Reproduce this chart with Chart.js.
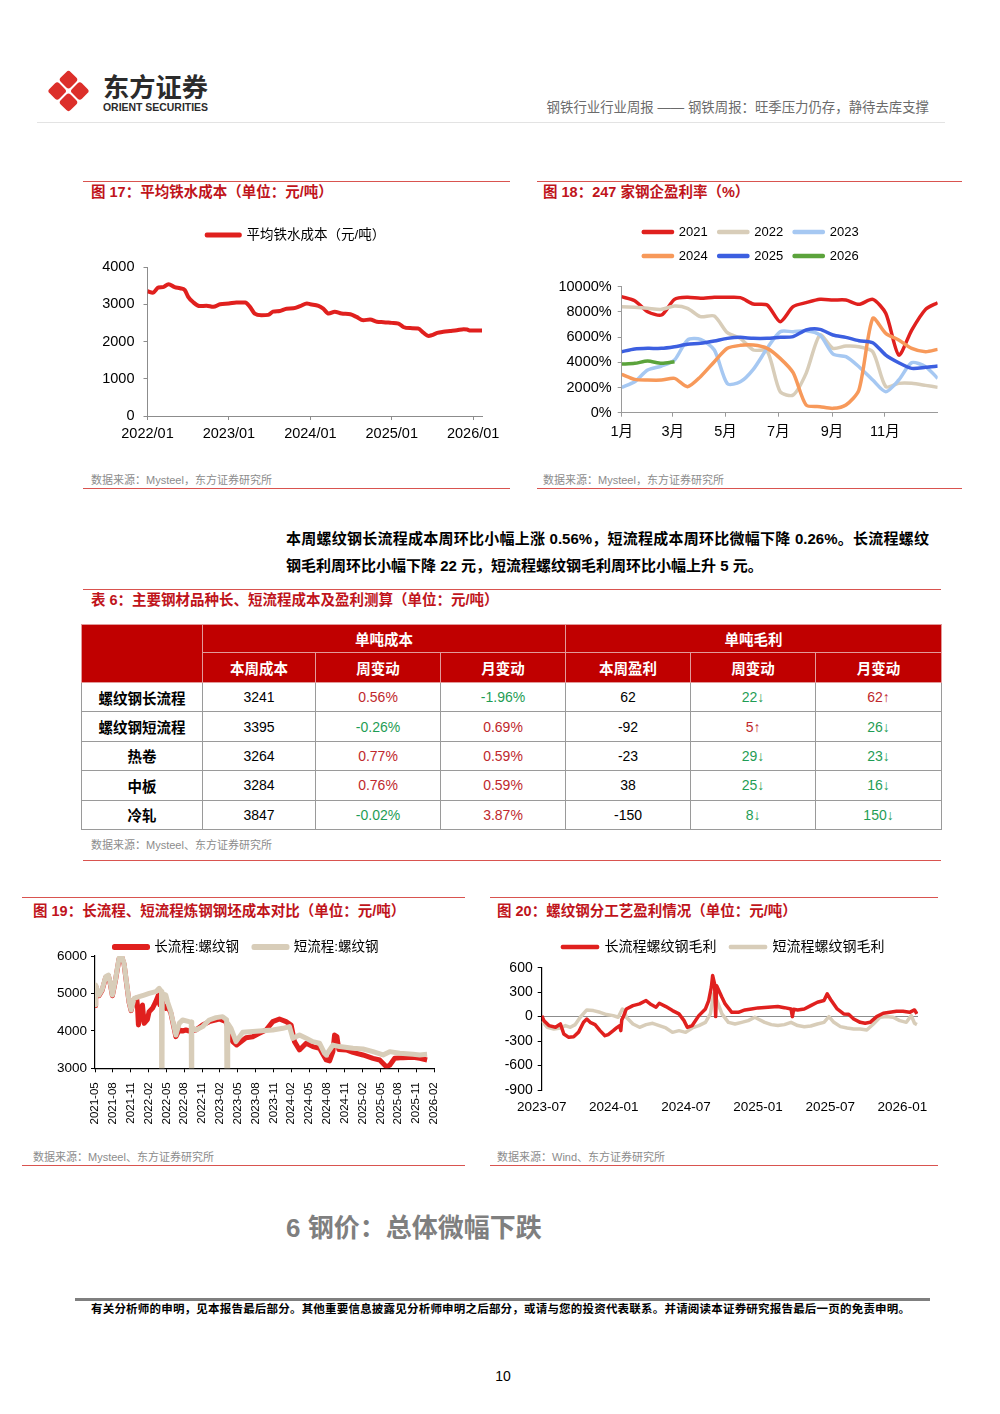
<!DOCTYPE html>
<html lang="zh-CN">
<head>
<meta charset="utf-8">
<title>钢铁周报 第10页</title>
<script src="https://cdn.jsdelivr.net/npm/chart.js@4.4.1/dist/chart.umd.min.js"></script>
<style>
  body { margin: 0; background: #fff; }
  #page { position: relative; width: 1000px; height: 1414px; overflow: hidden; background: #fff;
          font-family: 'Liberation Sans', 'Noto Sans CJK SC', sans-serif; color: #000; }
  #page > div { position: absolute; white-space: nowrap; line-height: 1; }
  .rule { height: 0; border-top: 1px solid #d9534f; }
  .ttl { font-size: 14.5px; font-weight: bold; color: #c0141b; }
  .src { font-size: 11px; color: #8c8c8c; }
  canvas { position: absolute; }
  #tb { position: absolute; left: 81px; top: 624px; width: 860px; border-collapse: collapse;
        table-layout: fixed; font-size: 14px; border: 1.5px solid #555; }
  #tb th { background: #c00000; color: #fff; font-weight: bold; font-size: 14.5px; padding: 0;
           border: 1px solid #e29a9a; }
  #tb tr.h1 th { height: 27px; }
  #tb tr.h2 th { height: 29px; }
  #tb td { border: 1px solid #9a9a9a; text-align: center; padding: 0; height: 28.4px; }
  #tb td.nm { font-weight: bold; font-size: 14.5px; }
  #tb td.up { color: #c0282d; }
  #tb td.dn { color: #1f9d55; }
</style>
</head>
<body>
<div id="page">
  <svg style="position:absolute;left:0;top:0" width="240" height="125">
    <g transform="translate(68.5,91) rotate(45)" fill="#dc2f2a">
      <rect x="-15" y="-15" width="14" height="14" rx="3"/>
      <rect x="1" y="-15" width="14" height="14" rx="3"/>
      <rect x="-15" y="1" width="14" height="14" rx="3"/>
      <rect x="1" y="1" width="14" height="14" rx="3"/>
    </g>
    <text x="103" y="97" font-family="'Noto Sans CJK SC'" font-weight="bold" font-size="26" fill="#2b2b2b"
          textLength="105" lengthAdjust="spacingAndGlyphs">东方证券</text>
    <text x="103" y="110.5" font-family="'Liberation Sans'" font-weight="bold" font-size="10" fill="#2b2b2b"
          textLength="105" lengthAdjust="spacingAndGlyphs">ORIENT SECURITIES</text>
  </svg>
  <div style="right:71px;top:101px;font-size:13.4px;color:#6b6b6b">钢铁行业行业周报 —— 钢铁周报：旺季压力仍存，静待去库支撑</div>
  <div class="rule" style="left:37px;top:122px;width:908px;border-top-color:#e3e3e3"></div>

  <div class="rule" style="left:83px;top:181px;width:427px"></div>
  <div class="ttl" style="left:91px;top:185px">图 17：平均铁水成本（单位：元/吨）</div>
  <canvas id="c17"></canvas>
  <div class="src" style="left:91px;top:474.5px">数据来源：Mysteel，东方证券研究所</div>
  <div class="rule" style="left:83px;top:488px;width:427px;border-top-width:1.5px"></div>

  <div class="rule" style="left:537px;top:181px;width:425px"></div>
  <div class="ttl" style="left:543px;top:185px">图 18：247 家钢企盈利率（%）</div>
  <canvas id="c18"></canvas>
  <div class="src" style="left:543px;top:474.5px">数据来源：Mysteel，东方证券研究所</div>
  <div class="rule" style="left:537px;top:488px;width:425px;border-top-width:1.5px"></div>

  <div style="left:286px;top:530.5px;width:643px;font-size:15px;font-weight:bold;text-align:justify;text-align-last:justify;white-space:normal">本周螺纹钢长流程成本周环比小幅上涨 0.56%，短流程成本周环比微幅下降 0.26%。长流程螺纹</div>
  <div style="left:286px;top:557.5px;font-size:15px;font-weight:bold">钢毛利周环比小幅下降 22 元，短流程螺纹钢毛利周环比小幅上升 5 元。</div>

  <div class="rule" style="left:83px;top:589px;width:858px"></div>
  <div class="ttl" style="left:91px;top:593px">表 6：主要钢材品种长、短流程成本及盈利测算（单位：元/吨）</div>
  <table id="tb">
    <colgroup><col style="width:121px"><col style="width:113px"><col style="width:125px"><col style="width:125px"><col style="width:125px"><col style="width:125px"><col style="width:126px"></colgroup>
    <tr class="h1"><th rowspan="2"></th><th colspan="3">单吨成本</th><th colspan="3">单吨毛利</th></tr>
    <tr class="h2"><th>本周成本</th><th>周变动</th><th>月变动</th><th>本周盈利</th><th>周变动</th><th>月变动</th></tr>
  </table>
  <div class="src" style="left:91px;top:839.5px">数据来源：Mysteel、东方证券研究所</div>
  <div class="rule" style="left:83px;top:860px;width:858px"></div>

  <div class="rule" style="left:22px;top:897px;width:443px"></div>
  <div class="ttl" style="left:33px;top:904px">图 19：长流程、短流程炼钢钢坯成本对比（单位：元/吨）</div>
  <canvas id="c19"></canvas>
  <div class="src" style="left:33px;top:1151.5px">数据来源：Mysteel、东方证券研究所</div>
  <div class="rule" style="left:22px;top:1165px;width:443px;border-top-width:1.5px"></div>

  <div class="rule" style="left:490px;top:897px;width:448px"></div>
  <div class="ttl" style="left:497px;top:904px">图 20：螺纹钢分工艺盈利情况（单位：元/吨）</div>
  <canvas id="c20"></canvas>
  <div class="src" style="left:497px;top:1151.5px">数据来源：Wind、东方证券研究所</div>
  <div class="rule" style="left:490px;top:1165px;width:448px;border-top-width:1.5px"></div>

  <div style="left:286px;top:1215px;font-size:26px;font-weight:bold;color:#7f7f7f">6 钢价：总体微幅下跌</div>

  <div class="rule" style="left:75px;top:1298px;width:855px;border-top:3px solid #7f7f7f"></div>
  <div style="left:91px;top:1304px;width:819px;font-size:11.5px;font-weight:bold;text-align:justify;text-align-last:justify;white-space:normal">有关分析师的申明，见本报告最后部分。其他重要信息披露见分析师申明之后部分，或请与您的投资代表联系。并请阅读本证券研究报告最后一页的免责申明。</div>
  <div style="left:483px;top:1369px;width:40px;text-align:center;font-size:14px">10</div>
</div>

<script>
// ---- 图17 平均铁水成本 (x = months since 2022/01)
const ironMonth = [0, 0.8, 1.6, 2.3, 3.1, 4.0, 4.8, 5.5,
  6.0, 6.7, 7.7, 8.7, 9.7, 10.7, 12.0, 13.1,
  14.4, 15.1, 15.8, 16.8, 17.8, 18.5, 19.5, 20.5,
  21.5, 22.5, 23.5, 24.0, 25.2, 25.9, 26.7, 27.6,
  28.6, 29.9, 30.8, 31.8, 32.8, 33.8, 34.8, 36.0,
  37.0, 37.7, 38.7, 39.9, 40.7, 41.4, 41.9, 42.7,
  43.6, 44.6, 45.6, 46.6, 47.1, 47.6, 48.6, 49.3];
const ironCost = [3350, 3310, 3450, 3460, 3540, 3460, 3430, 3380,
  3200, 3060, 2950, 2960, 2930, 3000, 3020, 3050,
  3045, 2930, 2750, 2705, 2715, 2800, 2820, 2880,
  2890, 2950, 3020, 3000, 2955, 2880, 2750, 2800,
  2750, 2730, 2660, 2570, 2590, 2530, 2520, 2500,
  2480, 2390, 2360, 2350, 2230, 2150, 2170, 2230,
  2260, 2280, 2300, 2330, 2320, 2295, 2295, 2295];
const ironTicks = ['2022/01', '2023/01', '2024/01', '2025/01', '2026/01'];

// ---- 图18 247家钢企盈利率 (x = day of year)
const dayOfYear = [0, 15, 30, 46, 61, 76, 91, 107, 122, 137, 152, 168, 183,
  198, 213, 229, 244, 259, 274, 290, 305, 320, 335, 351, 365];
const p2021 = [9208, 8890, 8017, 7753, 8996, 9155, 9076, 9155, 9155, 9129, 8626, 8547, 7224,
  8414, 8732, 8996, 8943, 8943, 8600, 8996, 7885, 4577, 6562, 8203, 8732];
const p2022 = [8414, 8361, 8282, 8203, 8467, 8282, 7620, 7673, 6350, 5900, 4975, 4900, 1667,
  1402, 3122, 6165, 5107, 5292, 5239, 4842, 2064, 2328, 2328, 2170, 2011];
const p2023 = [2011, 2461, 3387, 3704, 4181, 5768, 5821, 4975, 2300, 2450, 3440, 5107, 6430,
  6430, 6509, 6165, 4657, 4445, 3651, 2593, 1667, 2593, 3969, 3651, 2725];
const p2024 = [3043, 2646, 2593, 2593, 2725, 2064, 2858, 4048, 5107, 5345, 5371, 5107, 4313,
  3175, 609, 476, 344, 609, 1799, 7488, 6297, 5768, 5107, 4842, 5027];
const p2025 = [4842, 5054, 5107, 5107, 5239, 5424, 5504, 5689, 5900, 5980, 5900, 5900, 5980,
  6033, 6562, 6615, 6165, 5980, 5715, 5557, 4577, 3969, 3519, 3598, 3704];
const p2026 = [3863, 3916, 4101, 3916, 4048];
const monthNames = ['1月', '3月', '5月', '7月', '9月', '11月'];
const monthStartDay = [0, 59, 120, 181, 243, 304];

// ---- 图19 长/短流程钢坯成本 (x = months since 2021-05)
const longT = [0, 0.11, 0.67, 1.2, 1.8, 2.25, 2.6, 2.92,
  3.48, 4.04, 4.49, 4.89, 5.28, 5.73, 6.07, 6.57,
  7.0, 7.13, 7.3, 7.7, 7.98, 8.26, 8.8, 9.1,
  9.66, 10.22, 10.67, 10.9, 11.12, 11.46, 11.91, 12.19,
  12.75, 13.6, 14.16, 14.72, 15.28, 15.84, 16.97, 18.09,
  19.21, 20.9, 22.02, 23.15, 23.82, 25.39, 26.52, 27.64,
  28.76, 29.89, 31.01, 32.13, 32.98, 33.54, 34.38, 35.51,
  36.63, 37.75, 38.88, 39.44, 40.0, 40.28, 40.67, 41.0,
  42.25, 43.37, 45.06, 46.74, 47.87, 48.99, 49.55, 50.39,
  51.8, 53.48, 54.61, 55.84];
const longCost = [4680, 5200, 4940, 5080, 5430, 5470, 5230, 4940,
  5380, 5920, 5980, 5780, 5300, 4760, 4540, 4850,
  4880, 4690, 4157, 4600, 4690, 4200, 4300, 4513,
  4602, 4780, 4958, 4700, 4950, 4650, 4602, 4680,
  4480, 3845, 4023, 3997, 4023, 3997, 4023, 4157,
  4246, 4317, 4246, 3712, 3623, 3818, 3845, 3935,
  4023, 4246, 4317, 4246, 4157, 3712, 3490, 3667,
  3580, 3534, 3223, 3196, 3445, 3890, 3850, 3500,
  3490, 3427, 3356, 3267, 3223, 3044, 3080, 3267,
  3285, 3294, 3267, 3223];
const shortT = [0, 0.11, 0.67, 1.2, 1.8, 2.25, 2.6, 2.92,
  3.48, 4.04, 4.49, 4.89, 5.28, 5.73, 6.07, 6.57,
  7.42, 8.26, 9.1, 10.22, 10.79, 11.18, 11.24, 11.3,
  11.91, 12.19, 12.75, 13.6, 14.16, 14.72, 15.84, 16.18,
  16.24, 16.3, 16.97, 18.09, 19.21, 20.34, 21.46, 22.13,
  22.25, 22.32, 22.87, 23.71, 24.83, 26.52, 28.2, 29.89,
  31.57, 32.7, 33.26, 34.38, 35.51, 36.63, 37.75, 38.6,
  38.88, 40.0, 41.12, 43.37, 45.06, 46.74, 48.43, 49.55,
  51.24, 53.48, 54.61, 55.84];
const shortCost = [4700, 5225, 4958, 5100, 5448, 5492, 5250, 4958,
  5400, 5940, 6000, 5800, 5315, 4780, 4558, 4870,
  4914, 4958, 5000, 5047, 5136, 5050, 0, 5000,
  4958, 4780, 4513, 3890, 4200, 4290, 4246, 4240,
  0, 4100, 4023, 4113, 4290, 4353, 4380, 4300,
  0, 4200, 4068, 3712, 3960, 3980, 4000, 4023,
  4068, 4113, 3800, 3890, 3800, 3712, 3670, 3400,
  3356, 3620, 3580, 3534, 3516, 3445, 3356, 3445,
  3400, 3374, 3356, 3374];
const costTicks = ['2021-05', '2021-08', '2021-11', '2022-02', '2022-05', '2022-08', '2022-11',
  '2023-02', '2023-05', '2023-08', '2023-11', '2024-02', '2024-05', '2024-08', '2024-11',
  '2025-02', '2025-05', '2025-08', '2025-11', '2026-02'];

// ---- 图20 螺纹钢分工艺毛利 (x = months since 2023-07)
const longPT = [0, 0.19, 0.6, 1.15, 1.56, 1.84, 2.25, 2.66,
  3.07, 3.48, 3.75, 4.03, 4.44, 4.85, 5.26, 5.53,
  5.95, 6.22, 6.49, 6.58, 6.66, 6.77, 7.04, 7.59,
  8.14, 8.68, 9.1, 9.51, 9.78, 10.33, 10.88, 11.42,
  11.84, 12.11, 12.52, 13.07, 13.62, 13.89, 14.11, 14.22,
  14.38, 14.47, 14.55, 14.99, 15.26, 15.81, 16.36, 16.9,
  17.45, 18.0, 18.82, 19.64, 20.19, 20.74, 20.85, 20.96,
  21.29, 21.84, 22.38, 22.93, 23.48, 23.75, 24.03, 24.58,
  25.12, 25.53, 25.95, 26.49, 26.9, 27.32, 27.86, 28.41,
  28.96, 29.51, 30.05, 30.6, 31.01, 31.21];
const longProfit = [10, -50, -110, -130, -90, -213, -254, -246,
  -190, -70, -30, -70, -98, -172, -234, -220,
  -172, -139, -110, -172, -40, -8, 94, 135,
  156, 197, 148, 115, 164, 123, 74, 33,
  -49, -131, -110, 12, 94, 197, 361, 504,
  402, 0, 380, 238, 156, 53, 53, 82,
  94, 107, 115, 123, 110, 94, 0, 90,
  82, 94, 135, 176, 197, 279, 210, 94,
  33, 30, -29, -70, -82, -70, 0, 41,
  53, 66, 66, 53, 82, 33];
const shortPT = [0, 0.47, 1.01, 1.56, 1.97, 2.38, 2.79, 3.21,
  3.75, 4.3, 4.85, 5.4, 5.95, 6.36, 6.71, 6.9,
  7.04, 7.59, 8.14, 8.68, 9.23, 9.78, 10.33, 10.88,
  11.42, 11.97, 12.52, 13.07, 13.62, 14.03, 14.3, 14.58,
  14.99, 15.53, 16.08, 16.63, 17.18, 17.73, 18.0, 18.55,
  19.1, 19.64, 20.19, 20.74, 21.29, 21.84, 22.38, 22.93,
  23.48, 23.89, 24.3, 24.85, 25.4, 25.95, 26.49, 27.04,
  27.59, 28.14, 28.68, 29.23, 29.78, 30.33, 30.74, 31.01,
  31.21];
const shortProfit = [-49, -131, -152, -139, -110, -131, -98, -8,
  82, 74, 53, 25, 12, -8, 94, 60,
  -8, -90, -131, -98, -82, -110, -139, -193,
  -172, -193, -139, -110, -70, 33, 279, 197,
  33, -70, -90, -70, -49, -8, -29, -70,
  -98, -110, -98, -70, -110, -123, -115, -90,
  -70, 0, -70, -123, -139, -152, -152, -164,
  -90, -8, 0, -8, -49, -70, 12, -82,
  -98];
const profitTicks = ['2023-07', '2024-01', '2024-07', '2025-01', '2025-07', '2026-01'];

// ---- 表6
const rowNames = ['螺纹钢长流程', '螺纹钢短流程', '热卷', '中板', '冷轧'];
const costNow = [3241, 3395, 3264, 3284, 3847];
const costWeek = ['0.56%', '-0.26%', '0.77%', '0.76%', '-0.02%'];
const costMonth = ['-1.96%', '0.69%', '0.59%', '0.59%', '3.87%'];
const profitNow = [62, -92, -23, 38, -150];
const profitWeek = ['22↓', '5↑', '29↓', '25↓', '8↓'];
const profitMonth = ['62↑', '26↓', '23↓', '16↓', '150↓'];

const RED = '#e0201e', BEIGE = '#d8cdb9';

const tone = s => (s.startsWith('-') || s.endsWith('↓')) ? 'dn' : 'up';
const tb = document.getElementById('tb');
rowNames.forEach((n, i) => {
  const cells = [costWeek[i], costMonth[i]].map(s => `<td class="${tone(s)}">${s}</td>`).join('');
  const cells2 = [profitWeek[i], profitMonth[i]].map(s => `<td class="${tone(s)}">${s}</td>`).join('');
  tb.insertAdjacentHTML('beforeend',
    `<tr><td class="nm">${n}</td><td>${costNow[i]}</td>${cells}<td>${profitNow[i]}</td>${cells2}</tr>`);
});

Chart.defaults.font.family = "'Liberation Sans', 'Noto Sans CJK SC', sans-serif";
Chart.defaults.color = '#000';

// keep the legend where the page has it (and force the 3+3 rows in fig 18)
const pinLegend = {
  id: 'pinLegend',
  beforeLayout(chart, args, opts) {
    const lg = chart.legend;
    if (lg && opts.maxWidth && !lg._capped) {
      const upd = lg.update.bind(lg);
      lg.update = (w, h, m) => upd(Math.min(w, opts.maxWidth), h, m);
      lg._capped = true;
    }
  },
  afterLayout(chart, args, opts) {
    const lg = chart.legend;
    if (!lg) return;
    const w = lg.right - lg.left, h = lg.bottom - lg.top;
    lg.left = opts.center - w / 2; lg.right = lg.left + w;
    lg.top = opts.top; lg.bottom = opts.top + h;
  }
};

const noPadX = s => { s.paddingLeft = 0; s.paddingRight = 0; };
const noPadY = s => { s.paddingTop = 0; s.paddingBottom = 0; };
const plain = v => String(v);
const pts = (xs, ys) => xs.map((x, i) => ({ x, y: ys[i] }));
const line = (label, xs, ys, color, width, extra) => Object.assign({
  label, data: pts(xs, ys), borderColor: color, backgroundColor: color, borderWidth: width,
  pointRadius: 0, borderJoinStyle: 'round', fill: false
}, extra || {});
const legendOpts = (fs, box, pad) => ({
  display: true, position: 'top',
  labels: { boxWidth: box, boxHeight: 1, padding: pad, font: { size: fs }, color: '#000',
            sort: (a, b) => a.datasetIndex - b.datasetIndex }
});

// box = canvas [left, top, w, h]; area = plot [left, top, right, bottom], page px
function makeChart(id, box, area, cfg) {
  const cv = document.getElementById(id);
  cv.style.left = box[0] + 'px'; cv.style.top = box[1] + 'px';
  cv.style.width = box[2] + 'px'; cv.style.height = box[3] + 'px';
  cv.width = box[2]; cv.height = box[3];
  cfg.options.layout = { padding: { left: 0, top: 0, right: 0, bottom: 0 } };
  cfg.options.responsive = false;
  cfg.options.animation = false;
  cfg.options.plugins.tooltip = { enabled: false };
  cfg.plugins = [pinLegend];
  const ch = new Chart(cv, cfg);
  for (let k = 0; k < 3; k++) {
    const a = ch.chartArea, pad = ch.config.options.layout.padding;
    pad.left += area[0] - box[0] - a.left;
    pad.top += area[1] - box[1] - a.top;
    pad.right += a.right - (area[2] - box[0]);
    pad.bottom += a.bottom - (area[3] - box[1]);
    ch.update('none');
  }
  return ch;
}

// 图17
makeChart('c17', [83, 205, 427, 262], [147.5, 267, 482, 416], {
  type: 'line',
  data: { datasets: [line('平均铁水成本（元/吨）', ironMonth, ironCost, RED, 4, { cubicInterpolationMode: 'monotone' })] },
  options: {
    plugins: { legend: legendOpts(13.5, 33, 10), pinLegend: { center: 296 - 83, top: 235 - 10 - 6.75 - 205 } },
    scales: {
      x: { type: 'linear', min: 0, max: 49.3, afterFit: noPadX,
           afterBuildTicks: a => { a.ticks = ironTicks.map((_, i) => ({ value: i * 12 })); },
           grid: { drawOnChartArea: false, color: '#8c8c8c', tickLength: 4 }, border: { color: '#8c8c8c' },
           ticks: { callback: (v, i) => ironTicks[i], font: { size: 14.5 }, padding: 5, maxRotation: 0, autoSkip: false } },
      y: { min: 0, max: 4000, afterFit: noPadY,
           grid: { drawOnChartArea: false, color: '#8c8c8c', tickLength: 4 }, border: { color: '#8c8c8c' },
           ticks: { stepSize: 1000, font: { size: 14.5 }, padding: 9, callback: plain } }
    }
  }
});

// 图18 (later years drawn on top)
makeChart('c18', [537, 205, 425, 262], [621.7, 286.7, 937.7, 412.7], {
  type: 'line',
  data: { datasets: [
    line('2021', dayOfYear, p2021, RED, 3.5, { order: 6, tension: 0.25 }),
    line('2022', dayOfYear, p2022, BEIGE, 3.5, { order: 5, tension: 0.25 }),
    line('2023', dayOfYear, p2023, '#a6c8f2', 3.5, { order: 4, tension: 0.25 }),
    line('2024', dayOfYear, p2024, '#f7995a', 3.5, { order: 3, tension: 0.25 }),
    line('2025', dayOfYear, p2025, '#3c5fe0', 3.5, { order: 2, tension: 0.25 }),
    line('2026', dayOfYear, p2026, '#5ba33b', 3.5, { order: 1, tension: 0.25 })
  ] },
  options: {
    plugins: { legend: legendOpts(13, 29, 11), pinLegend: { center: 751 - 537, top: 232 - 11 - 6.5 - 205, maxWidth: 280 } },
    scales: {
      x: { type: 'linear', min: 0, max: 365, afterFit: noPadX,
           afterBuildTicks: a => { a.ticks = monthStartDay.map(d => ({ value: d })); },
           grid: { drawOnChartArea: false, color: '#9a9a9a', tickLength: 4 }, border: { color: '#9a9a9a' },
           ticks: { callback: (v, i) => monthNames[i], font: { size: 14.5 }, padding: 7, maxRotation: 0, autoSkip: false } },
      y: { min: 0, max: 10000, afterFit: noPadY,
           grid: { drawOnChartArea: false, color: '#9a9a9a', tickLength: 4 }, border: { color: '#9a9a9a' },
           ticks: { stepSize: 2000, font: { size: 14.5 }, padding: 6, callback: v => v + '%' } }
    }
  }
});

// 图19 (短流程 drawn over 长流程)
makeChart('c19', [22, 915, 443, 225], [95, 956, 434, 1068.3], {
  type: 'line',
  data: { datasets: [
    line('长流程:螺纹钢', longT, longCost, RED, 5, { order: 2 }),
    line('短流程:螺纹钢', shortT, shortCost, BEIGE, 5, { order: 1 })
  ] },
  options: {
    plugins: { legend: legendOpts(13.5, 33, 15), pinLegend: { center: 246.5 - 22, top: 947 - 15 - 6.75 - 915 } },
    scales: {
      x: { type: 'linear', min: 0, max: 57, afterFit: noPadX,
           afterBuildTicks: a => { a.ticks = costTicks.map((_, i) => ({ value: i * 3 })); },
           grid: { drawOnChartArea: false, color: '#000', tickLength: 4 }, border: { color: '#000', width: 1.2 },
           ticks: { callback: (v, i) => costTicks[i], font: { size: 11.5 }, padding: 10,
                    minRotation: 90, maxRotation: 90, autoSkip: false } },
      y: { min: 3000, max: 6000, afterFit: noPadY,
           grid: { drawOnChartArea: false, color: '#000', tickLength: 4 }, border: { color: '#000', width: 1.2 },
           ticks: { stepSize: 500, font: { size: 13.5 }, padding: 4, callback: plain } }
    }
  }
});

// 图20
makeChart('c20', [490, 915, 448, 205], [541.7, 967.7, 918, 1090], {
  type: 'line',
  data: { datasets: [
    line('长流程螺纹钢毛利', longPT, longProfit, RED, 3.5),
    line('短流程螺纹钢毛利', shortPT, shortProfit, BEIGE, 3.5)
  ] },
  options: {
    plugins: { legend: legendOpts(14, 35, 14), pinLegend: { center: 723.5 - 490, top: 947 - 14 - 7 - 915 } },
    scales: {
      x: { type: 'linear', min: 0, max: 31.3, afterFit: noPadX,
           afterBuildTicks: a => { a.ticks = profitTicks.map((_, i) => ({ value: i * 6 })); },
           grid: { display: false, drawTicks: false }, border: { display: false },
           ticks: { callback: (v, i) => profitTicks[i], font: { size: 13.5 }, padding: 9, maxRotation: 0, autoSkip: false } },
      y: { min: -900, max: 600, afterFit: noPadY,
           grid: { color: c => c.tick && c.tick.value === 0 ? '#8c8c8c' : 'rgba(0,0,0,0)', tickColor: '#000', tickLength: 4 },
           border: { color: '#000', width: 1.2 },
           ticks: { stepSize: 300, font: { size: 14 }, padding: 5, callback: plain } }
    }
  }
});
</script>
</body>
</html>
